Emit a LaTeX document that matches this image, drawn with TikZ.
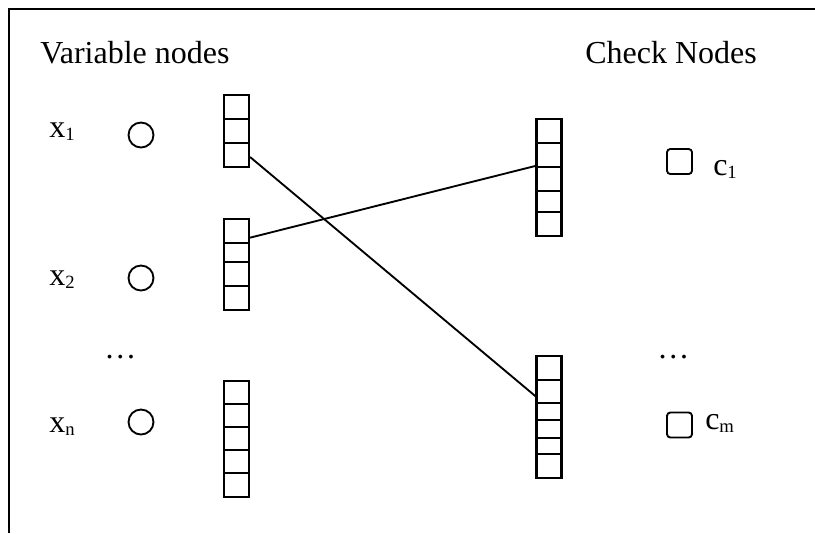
\documentclass[tikz,border=0pt]{standalone}
\usepackage{fontspec}
\setmainfont{Liberation Serif}
\usetikzlibrary{calc}

% small lowered index for the node labels
\newcommand\idx[1]{\raisebox{-2.4pt}{\fontsize{14pt}{14pt}\selectfont #1}}

\tikzset{
  frame/.style={line width=2.2pt},
  cell/.style={draw, line width=1.6pt, rectangle, inner sep=0pt,
               minimum width=18.75pt},
  varnode/.style={draw, line width=1.4pt, circle, inner sep=0pt,
                  minimum size=18.75pt},
  checknode/.style={draw, line width=1.4pt, rectangle, rounded corners=2.5pt,
                    inner sep=0pt, minimum size=18.75pt},
  lbl/.style={inner sep=0pt, font=\fontsize{24pt}{28pt}\selectfont},
  edge/.style={line width=1.4pt}
}

% one cell of a message column: name, x, top y, bottom y
\newcommand\msgcell[4]{%
  \node[cell, minimum height={(#4-#3)*0.75pt}] (#1) at (#2,{(#3+#4)/2}) {};}

\begin{document}
\begin{tikzpicture}[x=0.75pt, y=-0.75pt]
\useasboundingbox (0,0) rectangle (815,533);

% outer frame (top and left edges)
\draw[frame] (9,533) -- (9,9) -- (815,9);

% headings
\node[lbl, anchor=base west] (varhead) at (40,63) {Variable nodes};
\node[lbl, anchor=base west] (chkhead) at (585,63) {Check Nodes};

% variable node labels and circles
\node[lbl, anchor=base west] (lx1) at (49,137) {x\idx{1}};
\node[lbl, anchor=base west] (lx2) at (49,285) {x\idx{2}};
\node[lbl, anchor=base west] (lxn) at (49,432) {x\idx{n}};
\node[lbl, anchor=base west] (vdots) at (104,358) {…};

\node[varnode] (v1) at (141,135) {};
\node[varnode] (v2) at (141,278) {};
\node[varnode] (vn) at (141,422) {};

% variable-side message columns
\msgcell{va1}{236.5}{95}{119}
\msgcell{va2}{236.5}{119}{143}
\msgcell{va3}{236.5}{143}{167}

\msgcell{vb1}{236.5}{219}{243}
\msgcell{vb2}{236.5}{243}{262}
\msgcell{vb3}{236.5}{262}{286}
\msgcell{vb4}{236.5}{286}{310}

\msgcell{vc1}{236.5}{381}{404}
\msgcell{vc2}{236.5}{404}{427}
\msgcell{vc3}{236.5}{427}{450}
\msgcell{vc4}{236.5}{450}{473}
\msgcell{vc5}{236.5}{473}{497}

% check-side message columns
\msgcell{ca1}{549}{119}{143}
\msgcell{ca2}{549}{143}{167}
\msgcell{ca3}{549}{167}{191}
\msgcell{ca4}{549}{191}{212}
\msgcell{ca5}{549}{212}{236}

\msgcell{cb1}{549}{356}{380}
\msgcell{cb2}{549}{380}{403}
\msgcell{cb3}{549}{403}{420}
\msgcell{cb4}{549}{420}{438}
\msgcell{cb5}{549}{438}{454}
\msgcell{cb6}{549}{454}{478}

% check nodes and labels
\node[checknode] (c1) at (679.5,161.5) {};
\node[checknode] (cm) at (679.5,425) {};
\node[lbl, anchor=base west] (lc1) at (713,175) {c\idx{1}};
\node[lbl, anchor=base west] (lcm) at (705,429) {c\idx{m}};
\node[lbl, anchor=base west] (cdots) at (657,358) {…};

% edges between message slots
\draw[edge] ([yshift=-1.5pt]va3.east) -- ([yshift=-3.5pt]cb2.west);
\draw[edge] ([yshift=-5pt]vb1.east) -- (ca3.north west);
\end{tikzpicture}
\end{document}
